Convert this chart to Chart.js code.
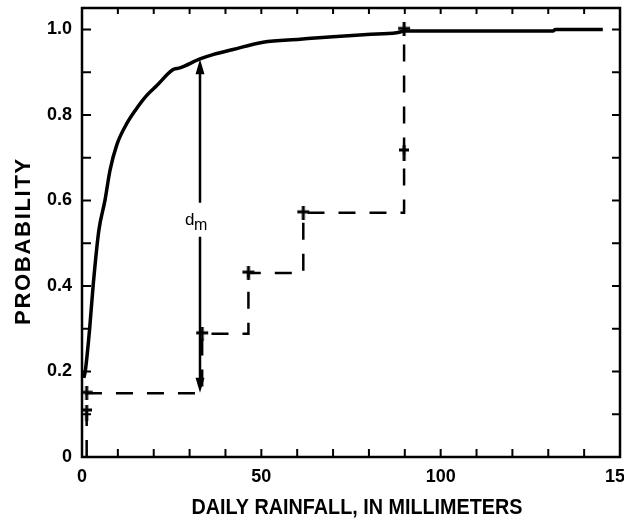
<!DOCTYPE html>
<html>
<head>
<meta charset="utf-8">
<script src="https://cdn.jsdelivr.net/npm/chart.js@4.4.0/dist/chart.umd.min.js"></script>
<style>
html,body{margin:0;padding:0;background:#fff;overflow:hidden;}
#wrap{width:700px;height:522px;position:relative;}
</style>
</head>
<body>
<div id="wrap"><canvas id="chart"></canvas></div>
<script>
// observed daily rainfall distribution (solid curve)
const obsX = [0.5, 0.9, 2.1, 3.1, 4.7, 6.4, 7.8, 9.7, 12.5, 14.8, 18.0, 20.8, 25.4, 27.3, 32.9, 36.5, 42.1, 50.5, 60.8, 70.0, 79.4, 87.7, 90.0, 131.3, 132.0, 145.2];
const obsY = [0.185, 0.20, 0.297, 0.40, 0.53, 0.60, 0.67, 0.73, 0.78, 0.81, 0.845, 0.868, 0.906, 0.91, 0.931, 0.941, 0.953, 0.970, 0.977, 0.983, 0.988, 0.992, 0.996, 0.996, 1.0, 1.0];

// sample step function (dashed)
const stepX = [1.3, 1.3, 1.3, 33.5, 46.4, 61.7, 89.8, 89.8];
const stepY = [0, 0.103, 0.149, 0.288, 0.43, 0.571, 0.711, 1.0];
const stepMark = ['none', 'dagger', 'cross', 'cross', 'cross', 'cross', 'dagger', 'cross'];

// ticks
const xTickValues = [0, 10, 20, 30, 40, 50, 60, 70, 80, 90, 100, 110, 120, 130, 140, 150];
const xTickLabels = [0, 50, 100, 150];
const yTickValues = [0, 0.1, 0.2, 0.3, 0.4, 0.5, 0.6, 0.7, 0.8, 0.9, 1.0];
const yTickLabels = [0, 0.2, 0.4, 0.6, 0.8, 1.0];

const xTitle = 'DAILY RAINFALL, IN MILLIMETERS';
const yTitle = 'PROBABILITY';

// d_m arrow
const dmX = 32.9;
const dmLow = 0.15;
const dmHigh = 0.93;
const dmLabelY = 0.555;

const FONT = "'Liberation Sans', Arial, sans-serif";

function mark(kind){
  const c = document.createElement('canvas');
  if(kind=='cross'){ c.width = 14; c.height = 14; }
  else { c.width = 10; c.height = 16; }
  const g = c.getContext('2d');
  g.strokeStyle = '#000';
  g.lineWidth = 3;
  g.beginPath();
  if(kind=='cross'){
    g.moveTo(7,0); g.lineTo(7,14); g.moveTo(1,6); g.lineTo(13,6);
  } else {
    g.moveTo(5,0); g.lineTo(5,16); g.moveTo(0,5); g.lineTo(10,5);
  }
  g.stroke();
  return c;
}
const marks = {cross: mark('cross'), dagger: mark('dagger')};

const frame = {
  id: 'frame',
  afterDatasetsDraw(chart){
    const {ctx, chartArea: a, scales: {x, y}} = chart;
    ctx.save();
    ctx.strokeStyle = '#000';
    ctx.lineWidth = 2.5;
    ctx.strokeRect(a.left, a.top, a.right - a.left, a.bottom - a.top);
    ctx.lineWidth = 2;
    ctx.beginPath();
    xTickValues.forEach(v => {
      const px = x.getPixelForValue(v);
      if(px <= a.left + 1 || px >= a.right - 1) return;
      ctx.moveTo(px, a.bottom); ctx.lineTo(px, a.bottom - 8);
      ctx.moveTo(px, a.top); ctx.lineTo(px, a.top + 6);
    });
    yTickValues.forEach(v => {
      const py = y.getPixelForValue(v);
      if(py >= a.bottom - 1) return;
      ctx.moveTo(a.left, py); ctx.lineTo(a.left + 9, py);
      ctx.moveTo(a.right, py); ctx.lineTo(a.right - 8, py);
    });
    ctx.stroke();

    // d_m double arrow
    const ax = x.getPixelForValue(dmX);
    const y1 = y.getPixelForValue(dmHigh);
    const y2 = y.getPixelForValue(dmLow);
    const ly = y.getPixelForValue(dmLabelY);
    ctx.lineWidth = 2.5;
    ctx.beginPath();
    ctx.moveTo(ax, y1 + 10); ctx.lineTo(ax, ly - 17);
    ctx.moveTo(ax, ly + 17); ctx.lineTo(ax, y2 - 10);
    ctx.stroke();
    ctx.fillStyle = '#000';
    ctx.beginPath();
    ctx.moveTo(ax, y1); ctx.lineTo(ax - 4.5, y1 + 15); ctx.lineTo(ax + 4.5, y1 + 15); ctx.closePath();
    ctx.moveTo(ax, y2); ctx.lineTo(ax - 4.5, y2 - 15); ctx.lineTo(ax + 4.5, y2 - 15); ctx.closePath();
    ctx.fill();
    ctx.font = "17px " + FONT;
    ctx.textBaseline = 'alphabetic';
    ctx.textAlign = 'left';
    ctx.fillText('d', ax - 15, ly + 5);
    ctx.font = "16px " + FONT;
    ctx.fillText('m', ax - 6, ly + 10);

    // axis titles, condensed like the original lettering
    ctx.font = "bold 22px " + FONT;
    ctx.textAlign = 'center';
    ctx.save();
    ctx.translate(357, 514);
    ctx.scale(331 / ctx.measureText(xTitle).width, 1);
    ctx.fillText(xTitle, 0, 0);
    ctx.restore();
    ctx.save();
    ctx.translate(30, 241);
    ctx.rotate(-Math.PI / 2);
    ctx.letterSpacing = '1.7px';
    ctx.fillText(yTitle, 0, 0);
    ctx.restore();
    ctx.restore();
  }
};

new Chart(document.getElementById('chart'), {
  type: 'line',
  data: {
    datasets: [{
      data: obsX.map((v, i) => ({x: v, y: obsY[i]})),
      borderColor: '#000',
      borderWidth: 3.5,
      pointRadius: 0,
      cubicInterpolationMode: 'monotone',
      fill: false
    }, {
      data: stepX.map((v, i) => ({x: v, y: stepY[i]})),
      borderColor: '#000',
      borderWidth: 2.5,
      borderDash: [17, 14],
      stepped: true,
      pointStyle: stepMark.map(m => marks[m] || 'circle'),
      pointRadius: stepMark.map(m => m == 'none' ? 0 : 6),
      pointBorderWidth: 0,
      fill: false
    }]
  },
  options: {
    responsive: true,
    maintainAspectRatio: false,
    animation: false,
    layout: {padding: {top: 8, right: 80, left: 0, bottom: 0}},
    plugins: {legend: {display: false}, tooltip: {enabled: false}},
    scales: {
      x: {
        type: 'linear', min: 0, max: 150,
        border: {display: false},
        grid: {display: false, drawTicks: false},
        afterBuildTicks: s => { s.ticks = xTickValues.map(v => ({value: v})); },
        afterFit: s => { s.height = 65; s.paddingLeft = 0; s.paddingRight = 0; },
        ticks: {
          autoSkip: false, maxRotation: 0, padding: 9, color: '#000',
          font: {family: FONT, size: 18, weight: 'bold'},
          callback: v => xTickLabels.includes(v) ? String(v) : ''
        }
      },
      y: {
        type: 'linear', min: 0, max: 1.05,
        border: {display: false},
        grid: {display: false, drawTicks: false},
        afterBuildTicks: s => { s.ticks = yTickValues.map(v => ({value: v})); },
        afterFit: s => { s.width = 82; s.paddingTop = 0; s.paddingBottom = 0; },
        ticks: {
          autoSkip: false, padding: 10, color: '#000',
          font: {family: FONT, size: 18, weight: 'bold'},
          callback: v => yTickLabels.some(l => Math.abs(l - v) < 1e-6) ? (v == 0 ? '0' : v.toFixed(1)) : ''
        }
      }
    }
  },
  plugins: [frame]
});
</script>
</body>
</html>
